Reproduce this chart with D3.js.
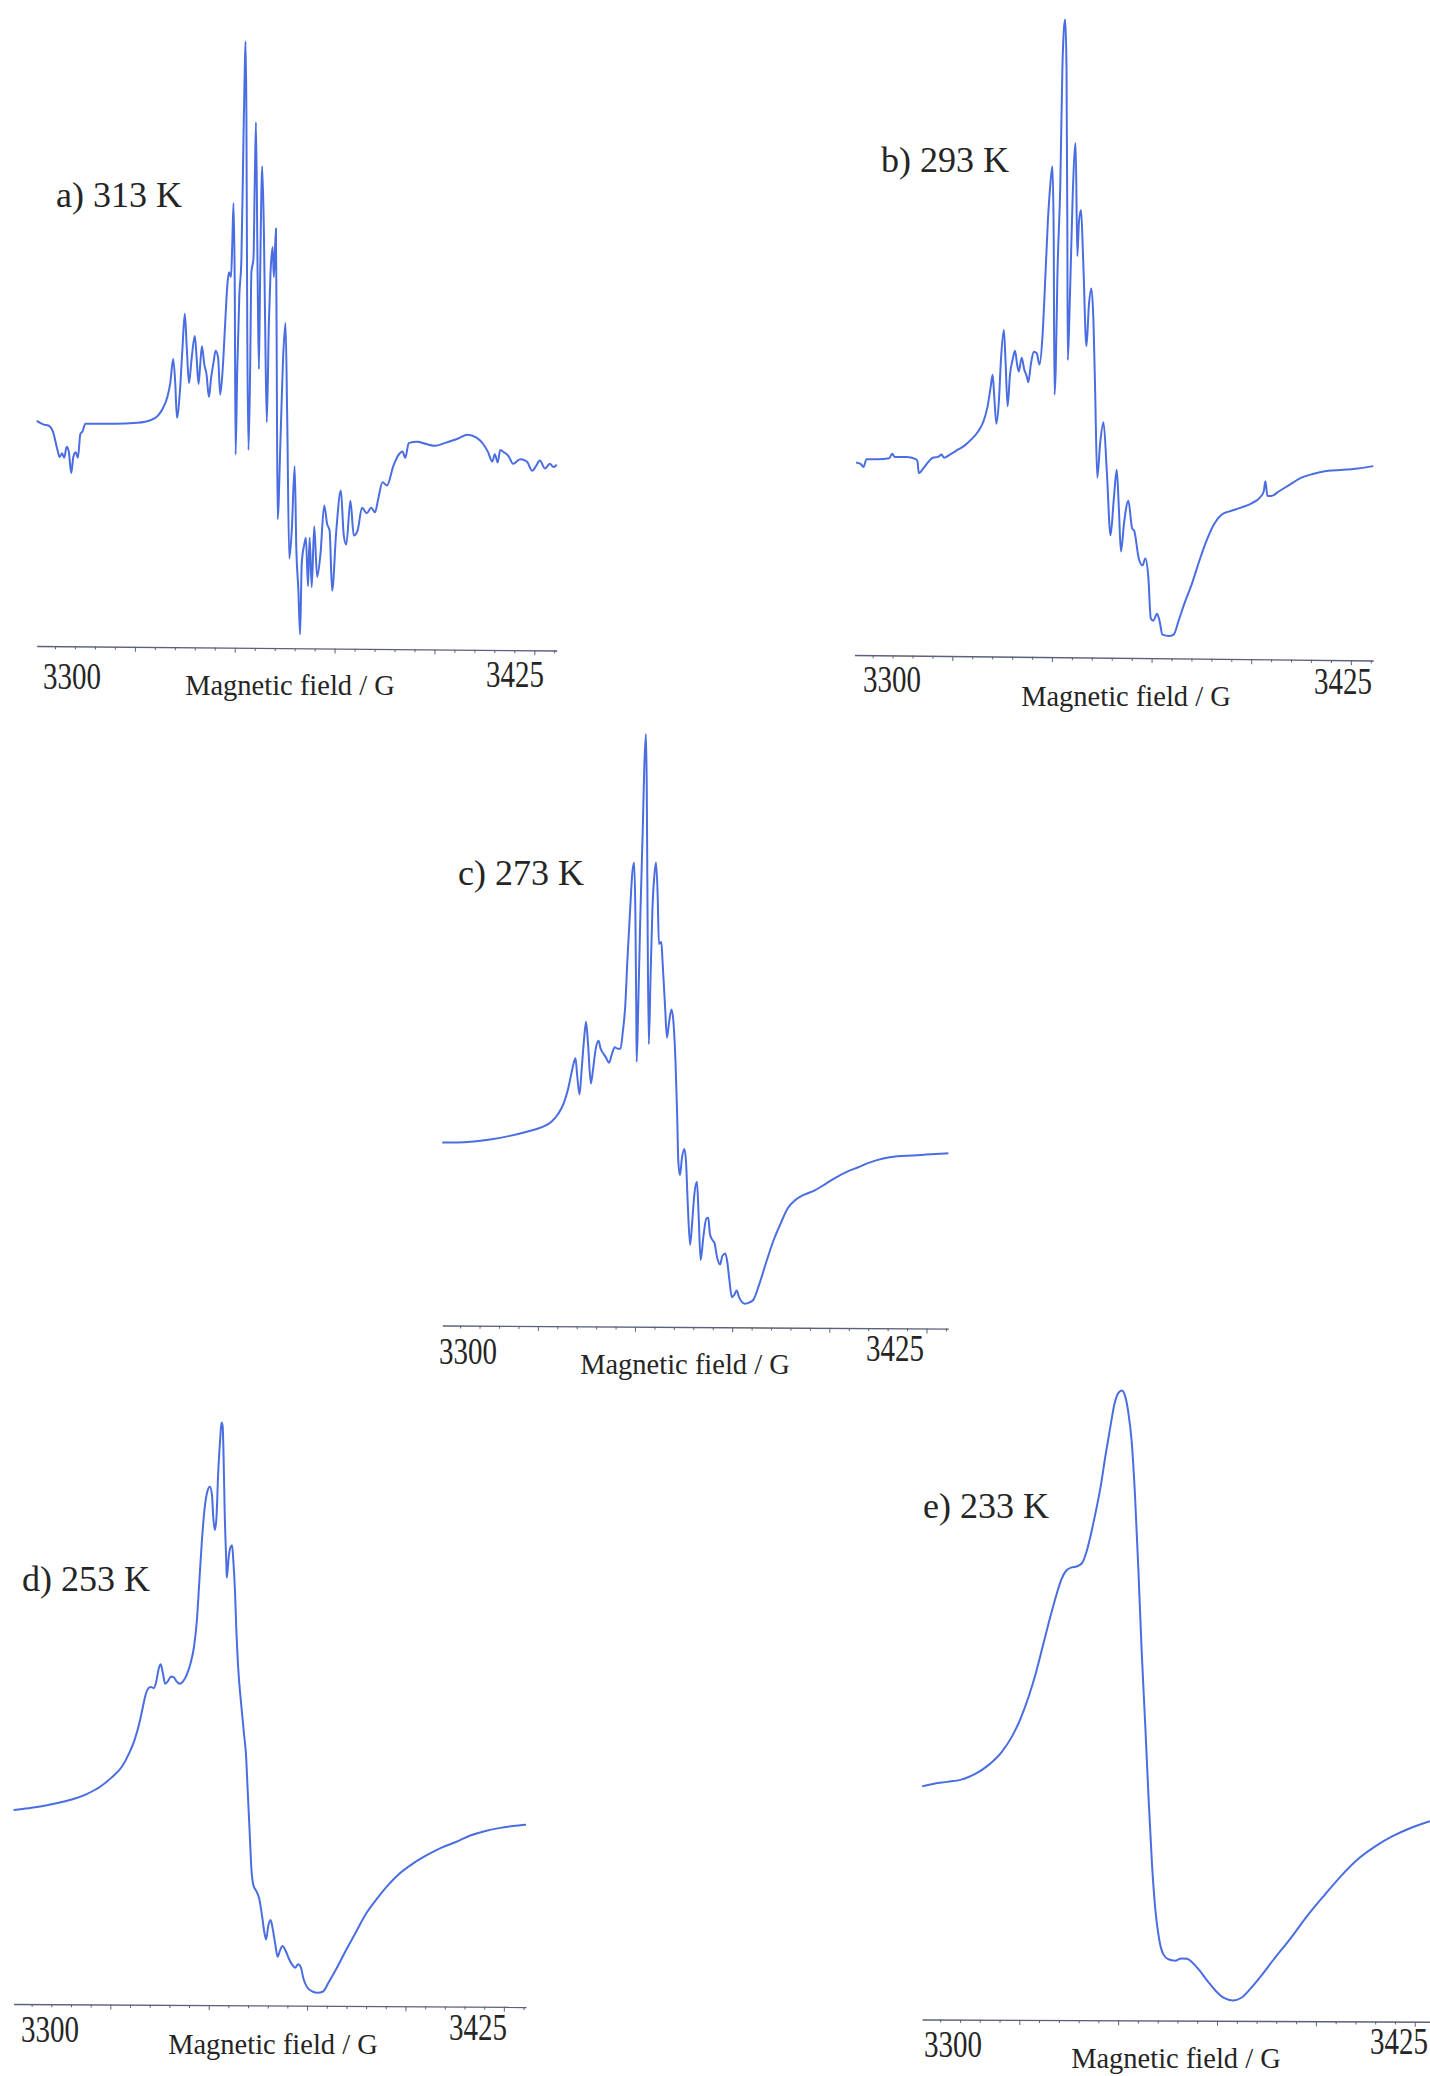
<!DOCTYPE html>
<html>
<head>
<meta charset="utf-8">
<script src="https://cdn.jsdelivr.net/npm/d3@7"></script>
<style>
  html, body { margin: 0; padding: 0; background: #ffffff; }
  svg { display: block; }
</style>
</head>
<body>
<svg id="fig" width="1430" height="2076"></svg>
<script>
// EPR first-derivative spectra recorded at five temperatures.
// Field in gauss, signal in arbitrary units (0 = starting baseline).

const panelLabels = ["a) 313 K", "b) 293 K", "c) 273 K", "d) 253 K", "e) 233 K"];
const fieldTickLabels = ["3300", "3425"];
const axisTitle = "Magnetic field / G";

// a) 313 K
const fieldA = [
  3300.0,3301.7,3302.8,3303.9,3305.0,3305.5,3306.1,3306.6,3307.2,3307.7,
  3308.3,3308.8,3309.4,3309.9,3310.5,3311.0,3311.7,3318.7,3324.2,3327.5,
  3329.2,3330.3,3331.4,3332.1,3332.8,3333.3,3333.7,3334.4,3335.0,3335.6,
  3336.1,3336.6,3337.2,3338.0,3338.4,3338.9,3339.3,3339.7,3340.3,3340.8,
  3341.4,3341.9,3342.5,3343.0,3343.6,3344.1,3344.7,3345.3,3345.8,3346.2,
  3346.7,3347.0,3347.3,3347.6,3347.8,3348.2,3348.7,3349.2,3349.7,3350.0,
  3350.2,3350.4,3350.6,3350.9,3351.3,3351.6,3352.1,3352.4,3352.7,3353.1,
  3353.4,3353.7,3354.2,3354.6,3354.9,3355.3,3355.8,3356.2,3356.7,3357.0,
  3357.5,3357.7,3357.9,3358.6,3359.2,3359.8,3360.2,3360.7,3361.3,3362.0,
  3362.4,3362.9,3363.3,3363.7,3364.3,3364.7,3365.2,3365.6,3366.1,3366.7,
  3367.4,3368.2,3369.1,3369.8,3370.4,3371.0,3372.0,3373.1,3373.8,3374.4,
  3375.4,3376.2,3377.1,3378.2,3379.3,3380.4,3381.3,3382.1,3383.1,3384.2,
  3385.7,3387.0,3387.9,3388.6,3389.4,3391.4,3393.6,3395.8,3398.0,3401.3,
  3403.5,3405.7,3407.3,3408.4,3409.5,3410.1,3410.8,3411.4,3412.3,3413.4,
  3414.5,3416.2,3417.8,3419.1,3420.0,3420.9,3422.2,3423.3,3424.2,3425.0
];
const signalA = [
  6,-2,-4,-17,-57,-72,-64,-74,-50,-60,
  -107,-72,-62,-74,-22,-17,0,0,2,8,
  18,33,58,88,140,88,13,68,158,238,
  158,88,138,190,148,86,128,168,128,108,
  58,98,133,158,143,63,118,218,298,328,
  318,388,478,298,-67,118,278,358,618,768,
  828,668,218,-57,118,328,358,518,653,318,
  118,318,558,418,218,3,218,328,383,318,
  423,118,-207,-32,138,218,18,-292,-232,-92,
  -272,-362,-457,-302,-262,-247,-352,-247,-354,-222,
  -332,-282,-177,-217,-232,-362,-232,-145,-242,-262,
  -167,-242,-232,-182,-194,-182,-192,-162,-127,-134,
  -92,-67,-60,-74,-42,-39,-44,-48,-42,-32,
  -24,-30,-44,-60,-82,-66,-84,-57,-62,-70,
  -87,-77,-82,-102,-92,-80,-97,-87,-94,-89
];

// b) 293 K
const fieldB = [
  3300.4,3301.5,3302.2,3302.9,3305.6,3308.4,3309.1,3309.7,3312.5,3314.8,
  3315.2,3315.5,3316.6,3317.9,3318.9,3320.2,3321.0,3321.6,3323.0,3324.8,
  3326.6,3328.4,3329.8,3331.0,3332.1,3332.8,3333.3,3333.7,3334.2,3334.8,
  3335.3,3336.0,3336.4,3336.9,3337.5,3338.1,3338.7,3339.2,3339.6,3340.3,
  3340.9,3341.5,3341.9,3342.5,3343.2,3343.9,3344.6,3345.3,3345.9,3346.6,
  3347.2,3347.7,3348.0,3348.2,3348.5,3348.9,3349.6,3350.1,3350.5,3350.8,
  3351.1,3351.3,3351.4,3351.9,3352.6,3353.3,3353.7,3354.1,3354.6,3355.1,
  3355.9,3356.5,3357.1,3357.6,3358.0,3358.5,3359.2,3360.0,3360.8,3361.7,
  3362.5,3363.2,3363.7,3364.2,3365.0,3366.0,3366.9,3367.4,3368.5,3369.4,
  3370.1,3370.8,3371.4,3372.0,3372.9,3373.5,3374.2,3375.8,3376.9,3378.1,
  3379.4,3381.3,3383.1,3384.9,3386.7,3388.5,3390.4,3393.1,3395.8,3397.7,
  3398.6,3399.0,3399.5,3400.4,3402.2,3404.9,3407.7,3410.4,3414.1,3417.7,
  3421.3,3425.0
];
const signalB = [
  -7,-10,-17,0,0,2,12,5,5,0,
  -5,-30,-20,-5,3,5,10,3,10,20,
  30,45,60,80,115,155,183,135,77,125,
  215,280,215,115,185,215,235,205,190,220,
  195,180,167,205,233,230,205,265,375,515,
  595,635,495,140,195,395,595,845,935,953,
  845,495,215,345,575,685,440,515,540,435,
  245,335,370,295,145,-40,35,80,-25,-165,
  -85,-23,-105,-200,-135,-90,-150,-155,-215,-230,
  -215,-255,-345,-350,-335,-350,-380,-383,-380,-350,
  -315,-270,-220,-175,-140,-120,-113,-105,-95,-83,
  -70,-48,-80,-80,-70,-55,-40,-32,-25,-23,
  -20,-15
];

// c) 273 K
const fieldC = [
  3300.0,3303.4,3307.8,3312.2,3316.7,3321.1,3324.6,3326.9,3328.6,3330.0,
  3331.0,3331.7,3332.4,3332.9,3333.3,3333.9,3334.4,3335.0,3335.5,3336.0,
  3336.7,3337.2,3337.9,3338.6,3339.1,3339.7,3340.4,3341.2,3341.9,3342.6,
  3343.3,3344.0,3344.6,3345.2,3345.7,3346.4,3346.9,3347.4,3347.7,3347.9,
  3348.0,3348.4,3348.9,3349.5,3349.9,3350.3,3350.5,3350.7,3351.0,3351.4,
  3351.9,3352.4,3352.8,3353.2,3353.5,3354.1,3354.4,3355.0,3355.5,3356.0,
  3356.6,3357.1,3357.6,3358.0,3358.3,3358.7,3359.2,3359.8,3360.2,3360.6,
  3361.2,3361.7,3362.3,3362.9,3363.3,3363.8,3364.5,3365.2,3365.7,3366.1,
  3366.8,3367.2,3367.9,3368.6,3369.2,3369.9,3370.4,3370.9,3371.5,3372.1,
  3372.7,3373.3,3373.9,3374.7,3375.9,3376.9,3378.3,3380.0,3381.8,3383.6,
  3385.4,3387.1,3389.4,3392.0,3394.7,3397.3,3400.0,3402.7,3405.3,3408.9,
  3412.4,3416.0,3419.5,3425.0
];
const signalC = [
  0,0,2,7,15,25,35,47,65,90,
  120,150,180,193,155,110,165,235,277,225,
  135,165,215,233,215,205,195,183,203,218,
  215,215,255,315,415,535,615,642,515,315,
  185,315,515,715,865,937,815,515,225,365,
  535,615,642,565,455,460,415,315,240,275,
  305,275,185,65,-45,-75,-35,-15,-45,-135,
  -235,-185,-115,-90,-165,-270,-215,-175,-173,-210,
  -225,-230,-265,-280,-260,-255,-275,-315,-355,-350,
  -340,-355,-365,-370,-367,-360,-325,-275,-225,-185,
  -150,-133,-120,-110,-95,-80,-67,-57,-47,-37,
  -32,-30,-28,-25
];

// d) 253 K
const fieldD = [
  3300.0,3303.7,3307.2,3310.7,3314.2,3317.7,3321.2,3323.8,3326.5,3328.2,
  3329.5,3330.7,3331.5,3332.2,3332.9,3333.5,3334.2,3334.8,3335.4,3335.9,
  3336.4,3337.0,3337.7,3338.4,3339.1,3339.8,3340.5,3341.3,3342.2,3343.1,
  3344.0,3344.7,3345.3,3345.9,3346.6,3347.3,3347.9,3348.4,3348.7,3349.1,
  3349.5,3349.9,3350.4,3350.7,3351.0,3351.2,3351.5,3351.9,3352.0,3352.5,
  3352.9,3353.3,3353.6,3354.0,3354.3,3354.8,3355.5,3356.2,3356.7,3357.1,
  3357.6,3358.0,3358.5,3359.3,3359.9,3360.6,3361.2,3361.6,3362.1,3362.7,
  3363.2,3363.9,3364.4,3365.0,3365.6,3366.3,3367.2,3368.1,3368.7,3369.4,
  3370.1,3370.7,3371.6,3372.9,3374.2,3375.5,3376.8,3378.6,3380.8,3383.4,
  3386.0,3388.7,3391.3,3393.9,3397.4,3400.9,3404.4,3407.9,3411.4,3414.9,
  3418.4,3421.9,3425.0
];
const signalD = [
  -1,3,8,15,23,35,53,73,100,130,
  160,200,235,265,280,283,280,295,325,335,
  315,290,297,307,305,295,290,295,310,335,
  375,435,525,615,695,735,745,725,675,645,
  675,775,855,893,885,825,685,565,535,585,
  605,610,575,505,425,325,245,175,125,45,
  -55,-135,-175,-190,-205,-245,-285,-300,-270,-255,
  -275,-315,-340,-325,-315,-325,-345,-360,-365,-357,
  -365,-390,-410,-420,-423,-420,-400,-370,-330,-285,
  -240,-205,-175,-150,-125,-105,-88,-75,-60,-50,
  -43,-38,-35
];

// e) 233 K
const fieldE = [
  3300.0,3302.9,3306.2,3309.5,3312.8,3316.1,3319.4,3321.8,3323.9,3326.0,
  3327.6,3329.3,3330.9,3332.6,3333.8,3335.0,3336.3,3337.5,3338.8,3339.8,
  3340.8,3342.0,3343.3,3344.5,3345.8,3346.7,3347.7,3348.5,3349.2,3350.0,
  3350.9,3351.7,3352.5,3353.3,3354.2,3355.0,3355.8,3356.6,3357.5,3358.5,
  3359.8,3361.4,3362.9,3364.3,3365.7,3367.2,3369.3,3371.3,3373.4,3375.4,
  3377.5,3379.6,3382.0,3385.3,3389.5,3393.6,3397.7,3401.8,3405.9,3410.1,
  3414.2,3418.3,3423.3
];
const signalE = [
  0,6,10,15,27,47,77,110,150,202,
  250,310,367,423,457,477,484,486,493,515,
  550,600,660,730,800,845,870,875,865,830,
  760,640,480,300,130,-30,-170,-270,-335,-370,
  -382,-385,-380,-381,-390,-405,-430,-452,-468,-473,
  -467,-448,-422,-383,-335,-285,-240,-197,-160,-132,
  -110,-93,-77
];

// Page layout of the five spectra (pixel geometry only).
const layout = [
  { field: fieldA, signal: signalA, x0: 36.7,  x1: 556.8,  yZero: 423.7,  yPer: 0.4615, axisY: 646,    tilt: 0.5,
    title: [56, 207],    lo: [72, 689],    hi: [515, 687],   name: [290, 695] },
  { field: fieldB, signal: signalB, x0: 854.4, x1: 1373.3, yZero: 459.2,  yPer: 0.4615, axisY: 655,    tilt: 0.6,
    title: [881, 172],   lo: [892, 692],   hi: [1343, 694],  name: [1126, 706] },
  { field: fieldC, signal: signalC, x0: 442.3, x1: 948.4,  yZero: 1142.4, yPer: 0.4359, axisY: 1325.5, tilt: 0.35,
    title: [458, 885],   lo: [468, 1364],  hi: [895, 1361],  name: [685, 1374] },
  { field: fieldD, signal: signalD, x0: 13.6,  x1: 526.0,  yZero: 1809.5, yPer: 0.4333, axisY: 2004,   tilt: 0.33,
    title: [22, 1591],   lo: [50, 2042],   hi: [478, 2040],  name: [273, 2054] },
  { field: fieldE, signal: signalE, x0: 922.1, x1: 1437.0, yZero: 1786.4, yPer: 0.4526, axisY: 2019.5, tilt: 0.25,
    title: [923, 1518],  lo: [953, 2057],  hi: [1399, 2054], name: [1176, 2068] }
];

const lineColor = "#4a6ee2";
const axisColor = "#5d6079";
const textColor = "#252525";
const serif = "'Liberation Serif', 'Times New Roman', Times, serif";

// Minor tick grid along the field axis; every fifth tick is a long one.
const minorTicks = d3.range(3304.4, 3426, 4.8);
const majorTicks = minorTicks.filter((d, i) => i % 5 === 4);

const svg = d3.select("#fig");
svg.append("rect").attr("width", 1430).attr("height", 2076).attr("fill", "#ffffff");

layout.forEach((p, i) => {
  const x = d3.scaleLinear().domain([3300, 3425]).range([p.x0, p.x1]);
  const y = d3.scaleLinear().domain([0, 1000]).range([p.yZero, p.yZero - 1000 * p.yPer]);
  const g = svg.append("g");

  // field axis
  const ax = g.append("g")
    .attr("transform", `translate(0,${p.axisY}) rotate(${p.tilt},${p.x0},0)`)
    .call(d3.axisBottom(x).tickValues(minorTicks).tickSize(3).tickSizeOuter(0).tickFormat(""));
  ax.select(".domain").attr("stroke", axisColor).attr("stroke-width", 1.4);
  ax.selectAll(".tick line")
    .attr("stroke", axisColor).attr("stroke-width", 1)
    .attr("y2", d => majorTicks.includes(d) ? 5 : 3);

  // spectrum
  const pts = p.field.map((f, k) => [f, p.signal[k]]);
  g.append("path")
    .datum(pts)
    .attr("fill", "none")
    .attr("stroke", lineColor)
    .attr("stroke-width", 2)
    .attr("stroke-linejoin", "round")
    .attr("d", d3.line().x(d => x(d[0])).y(d => y(d[1])).curve(d3.curveMonotoneX));

  // temperature label
  g.append("text")
    .attr("x", p.title[0]).attr("y", p.title[1])
    .attr("font-family", serif).attr("font-size", 36).attr("fill", textColor)
    .text(panelLabels[i]);

  // end-of-sweep field labels
  [p.lo, p.hi].forEach((pos, k) => {
    g.append("text")
      .attr("transform", `translate(${pos[0]},${pos[1]}) scale(1,1.3)`)
      .attr("text-anchor", "middle")
      .attr("font-family", serif).attr("font-size", 29).attr("fill", textColor)
      .text(fieldTickLabels[k]);
  });

  // axis title
  g.append("text")
    .attr("x", p.name[0]).attr("y", p.name[1])
    .attr("text-anchor", "middle")
    .attr("font-family", serif).attr("font-size", 28.5).attr("fill", textColor)
    .text(axisTitle);
});
</script>
</body>
</html>
